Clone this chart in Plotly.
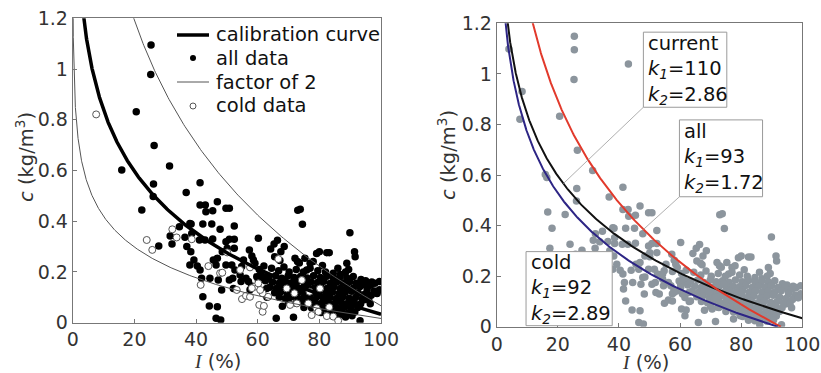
import numpy as np
import plotly.graph_objects as go

# ---------------- data ----------------
x_ticks = [0, 20, 40, 60, 80, 100]
y_ticks = [0, 0.2, 0.4, 0.6, 0.8, 1, 1.2]
y_ticktext = ["0", "0.2", "0.4", "0.6", "0.8", "1", "1.2"]

# fitted model c = ln(k1 / I) / k2
fit_names = ["current", "all", "cold"]
fit_k1 = [110, 93, 92]
fit_k2 = [2.86, 1.72, 2.89]
factor_of_two = 2

legend_labels = ["calibration curve", "all data", "factor of 2", "cold data"]

# left panel: all data (filled black dots)
left_all_points = [
    (25.4, 1.095), (25.3, 0.978), (20.6, 0.832), (26.4, 0.698), (31.4, 0.618), (15.9, 0.602),
    (26.2, 0.547), (41.3, 0.552), (36.8, 0.513), (22.4, 0.444), (26.1, 0.497),
    (27.9, 0.302), (31.6, 0.342), (32.2, 0.31), (34.6, 0.378), (38.0, 0.391), (38.6, 0.352),
    (36.4, 0.337), (37.0, 0.30), (38.3, 0.28), (38.0, 0.227), (39.3, 0.247), (40.4, 0.223),
    (41.3, 0.464), (43.0, 0.464), (43.2, 0.437), (45.4, 0.441), (46.9, 0.477), (49.7, 0.451), (50.8, 0.451),
    (38.4, 0.389), (42.2, 0.389), (45.1, 0.389), (47.8, 0.368), (52.4, 0.381),
    (41.1, 0.326), (42.9, 0.326), (45.4, 0.33),
    (41.3, 0.208), (41.8, 0.175), (42.2, 0.102), (44.5, 0.175), (44.3, 0.066), (46.9, 0.063),
    (46.5, 0.017), (48.0, 0.011),
    (45.6, 0.247), (46.9, 0.254), (46.5, 0.227), (47.2, 0.168), (49.7, 0.227), (50.8, 0.168),
    (52.1, 0.135), (48.3, 0.129), (48.5, 0.28),
    (49.7, 0.319), (50.8, 0.329), (50.1, 0.293), (52.4, 0.329), (52.4, 0.293),
    (51.6, 0.227), (52.6, 0.208), (54.3, 0.188), (54.6, 0.162), (51.9, 0.175),
    (56.2, 0.175), (57.0, 0.162), (57.5, 0.13), (58.0, 0.145), (55.4, 0.247), (54.8, 0.221),
    (57.3, 0.287), (58.1, 0.263), (58.6, 0.247), (59.1, 0.234), (60.2, 0.333),
    (59.7, 0.181), (60.2, 0.168), (62.0, 0.223), (61.8, 0.181), (62.9, 0.135),
    (64.2, 0.29), (65.3, 0.31), (66.4, 0.325), (67.5, 0.28), (68.6, 0.30), (65.5, 0.26), (67.2, 0.245),
    (66.0, 0.017), (71.6, 0.021), (73.0, 0.443), (73.8, 0.447), (74.5, 0.388), (89.9, 0.355),
    (91.6, 0.26), (88.9, 0.234), (79.1, 0.273), (80.0, 0.28), (82.4, 0.276), (83.2, 0.276),
    (77.0, 0.234), (78.0, 0.241), (75.3, 0.254), (75.9, 0.208), (72.1, 0.254), (72.9, 0.241),
    (98.0, 0.155), (95.3, 0.145), (99.5, 0.162), (98.6, 0.116), (93.2, 0.008), (91.4, 0.28),
    (61.0, 0.19), (62.5, 0.165), (60.5, 0.21), (95.0, 0.165), (97.0, 0.16), (68.0, 0.065),
    (63.0, 0.10), (94.5, 0.09), (96.5, 0.075), (73.5, 0.235), (86.0, 0.215), (89.5, 0.21), (81.0, 0.225),
    (64.5, 0.215), (66.8, 0.205), (68.5, 0.22), (70.2, 0.2), (72.5, 0.21), (74.8, 0.2), (77.0, 0.215),
    (79.5, 0.205), (82.0, 0.2), (84.5, 0.195), (86.8, 0.19), (88.5, 0.2),
    (63.5, 0.18), (65.8, 0.185), (67.8, 0.175), (69.9, 0.185), (71.8, 0.178), (73.9, 0.182), (76.0, 0.176),
    (78.1, 0.185), (80.3, 0.178), (82.4, 0.183), (84.6, 0.176), (86.7, 0.18), (88.9, 0.177), (91.0, 0.182),
    (93.5, 0.17),
    (64.8, 0.16), (66.9, 0.155), (69.0, 0.162), (71.0, 0.157), (73.1, 0.163), (75.2, 0.155), (77.3, 0.16),
    (79.4, 0.158), (81.5, 0.163), (83.6, 0.155), (85.7, 0.16), (87.8, 0.156), (89.9, 0.162), (92.0, 0.155),
    (94.3, 0.158), (96.6, 0.148),
    (63.9, 0.14), (66.0, 0.135), (68.0, 0.142), (70.0, 0.136), (72.1, 0.143), (74.2, 0.135), (76.3, 0.14),
    (78.4, 0.137), (80.5, 0.143), (82.6, 0.136), (84.7, 0.141), (86.8, 0.135), (88.9, 0.14), (91.0, 0.137),
    (93.1, 0.142), (95.5, 0.13), (97.8, 0.125), (99.5, 0.13),
    (65.5, 0.118), (67.5, 0.122), (69.6, 0.115), (71.6, 0.12), (73.7, 0.123), (75.8, 0.116), (77.9, 0.12),
    (80.0, 0.124), (82.1, 0.117), (84.2, 0.121), (86.3, 0.115), (88.4, 0.12), (90.5, 0.124), (92.6, 0.117),
    (94.7, 0.112), (96.8, 0.108), (98.7, 0.115),
    (67.0, 0.10), (69.0, 0.095), (71.0, 0.102), (73.0, 0.097), (75.0, 0.10), (77.1, 0.096), (79.2, 0.102),
    (81.3, 0.097), (83.4, 0.10), (85.5, 0.095), (87.6, 0.101), (89.7, 0.096), (91.8, 0.10), (93.9, 0.094),
    (96.0, 0.09),
    (70.0, 0.08), (72.4, 0.077), (74.5, 0.082), (76.6, 0.076), (78.7, 0.08), (80.8, 0.078), (82.9, 0.082),
    (85.0, 0.076), (87.1, 0.08), (89.2, 0.077), (91.3, 0.081), (93.4, 0.075),
    (75.0, 0.06), (77.5, 0.058), (79.7, 0.062), (81.8, 0.057), (83.9, 0.06), (86.0, 0.056), (88.1, 0.061),
    (90.2, 0.057), (92.5, 0.06),
    (80.5, 0.04), (83.0, 0.042), (85.2, 0.038), (87.3, 0.042), (89.4, 0.038), (91.5, 0.042),
    (86.3, 0.028), (88.5, 0.022), (90.6, 0.027),
]

# left panel: cold data (open circles)
left_cold_points = [
    (7.6, 0.821), (24.0, 0.326), (25.8, 0.287), (32.3, 0.368), (33.7, 0.336), (38.6, 0.329),
    (44.0, 0.223), (41.5, 0.149), (47.8, 0.195), (48.5, 0.197), (50.1, 0.277), (54.3, 0.208),
    (57.5, 0.218), (53.2, 0.129), (54.9, 0.093), (56.2, 0.106), (57.5, 0.102), (59.1, 0.142),
    (60.2, 0.155), (60.5, 0.07), (61.6, 0.116), (61.6, 0.043), (63.4, 0.102), (62.0, 0.066),
    (66.7, 0.251), (69.4, 0.135), (71.9, 0.116), (70.5, 0.07), (72.7, 0.076), (76.4, 0.076),
    (76.8, 0.122), (77.5, 0.03), (79.1, 0.057), (79.7, 0.043), (80.2, 0.135), (82.4, 0.026),
    (83.2, 0.061), (84.5, 0.024), (86.1, 0.008), (74.3, 0.168), (60.8, 0.129), (58.1, 0.136),
]

# right panel: extra points present only there
right_extra_points = [
    (4.0, 1.098), (8.3, 0.93), (25.4, 1.149), (43.1, 1.039), (16.4, 0.59),
    (16.7, 0.454), (18.1, 0.389), (17.4, 0.31),
]

all_x, all_y = [p[0] for p in left_all_points], [p[1] for p in left_all_points]
cold_x, cold_y = [p[0] for p in left_cold_points], [p[1] for p in left_cold_points]
right_pts = left_all_points + left_cold_points + right_extra_points
right_x, right_y = [p[0] for p in right_pts], [p[1] for p in right_pts]


def model_curve(k1, k2, i_max=100):
    i_vals = np.geomspace(0.05, min(i_max, k1), 700)
    return i_vals, np.log(k1 / i_vals) / k2


FONT = "DejaVu Sans"
W, H = 821, 373
TXT = 19.5
fig = go.Figure()

# ---------------- left panel ----------------
I_cal, c_cal = model_curve(fit_k1[0], fit_k2[0])
fig.add_trace(go.Scatter(x=all_x, y=all_y, mode="markers", name=legend_labels[1],
                         marker=dict(color="black", size=7.5, line=dict(width=0)),
                         xaxis="x", yaxis="y"))
fig.add_trace(go.Scatter(x=cold_x, y=cold_y, mode="markers", name=legend_labels[3],
                         marker=dict(color="white", size=7, line=dict(color="#555", width=1)),
                         xaxis="x", yaxis="y"))
fig.add_trace(go.Scatter(x=I_cal, y=c_cal * factor_of_two, mode="lines", name=legend_labels[2],
                         line=dict(color="#555", width=1), xaxis="x", yaxis="y"))
fig.add_trace(go.Scatter(x=I_cal, y=c_cal / factor_of_two, mode="lines", name=legend_labels[2],
                         line=dict(color="#555", width=1), xaxis="x", yaxis="y"))
fig.add_trace(go.Scatter(x=I_cal, y=c_cal, mode="lines", name=legend_labels[0],
                         line=dict(color="black", width=3.5), xaxis="x", yaxis="y"))

# ---------------- right panel ----------------
fig.add_trace(go.Scatter(x=right_x, y=right_y, mode="markers", name="data",
                         marker=dict(color="#8c959d", size=7.5, line=dict(width=0)),
                         xaxis="x2", yaxis="y2"))
curve_colors = {"current": "#111111", "all": "#e23a2c", "cold": "#2d2585"}
for name, k1, k2 in zip(fit_names, fit_k1, fit_k2):
    xi, ci = model_curve(k1, k2)
    fig.add_trace(go.Scatter(x=xi, y=ci, mode="lines", name=name,
                             line=dict(color=curve_colors[name], width=2),
                             xaxis="x2", yaxis="y2"))

shapes = []
annotations = []

# ---- legend of left panel (page pixel positions) ----
leg_x0, leg_x1, leg_text_x = 177, 209, 214
leg_rows = [35, 58, 82, 106]
leg_styles = [("line", "black", 3.5), ("dot", "black", None), ("line", "#555", 1), ("ring", "#555", None)]
for label, row, (kind, col, lw) in zip(legend_labels, leg_rows, leg_styles):
    yy = 1 - row / H
    if kind == "line":
        shapes.append(dict(type="line", xref="paper", yref="paper", x0=leg_x0 / W, x1=leg_x1 / W,
                           y0=yy, y1=yy, line=dict(color=col, width=lw), layer="above"))
    else:
        shapes.append(dict(type="circle", xref="paper", yref="paper", xsizemode="pixel",
                           ysizemode="pixel", xanchor=(leg_x0 + leg_x1) / 2 / W, yanchor=yy,
                           x0=-3, x1=3, y0=-3, y1=3,
                           fillcolor=col if kind == "dot" else "white",
                           line=dict(color=col, width=0 if kind == "dot" else 1), layer="above"))
    annotations.append(dict(xref="paper", yref="paper", x=leg_text_x / W, y=yy,
                            xanchor="left", yanchor="middle", showarrow=False, text=label,
                            font=dict(family=FONT, size=TXT, color="#111")))

# ---- label boxes of right panel (data units) ----
boxes = {
    "current": dict(x0=48.0, x1=75.3, y0=0.868, y1=1.165),
    "all": dict(x0=59.8, x1=87.0, y0=0.514, y1=0.818),
    "cold": dict(x0=9.6, x1=37.8, y0=0.004, y1=0.297),
}
leaders = {
    "current": (48.0, 0.868, 21.8),
    "all": (59.8, 0.514, 48.0),
}
for name, k1, k2 in zip(fit_names, fit_k1, fit_k2):
    b = boxes[name]
    if name in leaders:
        lx0, ly0, li = leaders[name]
        shapes.append(dict(type="line", xref="x2", yref="y2", x0=lx0, y0=ly0,
                           x1=li, y1=float(np.log(k1 / li) / k2),
                           line=dict(color="#9a9a9a", width=0.8), layer="above"))
    shapes.append(dict(type="rect", xref="x2", yref="y2", x0=b["x0"], x1=b["x1"],
                       y0=b["y0"], y1=b["y1"], fillcolor="white",
                       line=dict(color="#9a9a9a", width=1), layer="above"))
    txt = (f"{name}<br><i>k</i><sub><i>1</i></sub>={k1}"
           f"<br><i>k</i><sub><i>2</i></sub>={k2:.2f}")
    annotations.append(dict(xref="x2", yref="y2", x=b["x0"] + 1.0, y=(b["y0"] + b["y1"]) / 2,
                            xanchor="left", yanchor="middle", align="left", showarrow=False,
                            text=txt, font=dict(family=FONT, size=TXT, color="#111")))

# ---- axis titles (page pixels) ----
title_font = dict(family=FONT, size=TXT, color="#333")
ytitle_txt = "<i>c</i> (kg/m<sup>3</sup>)"
xtitle_txt = "<span style='font-family:Liberation Serif'><i>I</i></span> (%)"
for (px, py) in [(25, 157), (447, 155)]:
    annotations.append(dict(xref="paper", yref="paper", x=px / W, y=1 - py / H,
                            xanchor="center", yanchor="middle", textangle=-90,
                            showarrow=False, text=ytitle_txt, font=title_font))
for (px, py) in [(217, 361), (645, 362)]:
    annotations.append(dict(xref="paper", yref="paper", x=px / W, y=1 - py / H,
                            xanchor="center", yanchor="middle",
                            showarrow=False, text=xtitle_txt, font=title_font))

axis_common = dict(showline=True, mirror=True, linecolor="#777", linewidth=1, automargin=False,
                   ticks="inside", ticklen=4, tickcolor="#777", showgrid=False, zeroline=False,
                   ticklabeloverflow="allow",
                   tickfont=dict(family=FONT, size=19, color="#333"))

fig.update_layout(
    width=W, height=H, margin=dict(l=0, r=0, t=0, b=0),
    paper_bgcolor="white", plot_bgcolor="white", showlegend=False,
    xaxis=dict(domain=[0.0886, 0.4641], anchor="y", range=[0, 100], tickvals=x_ticks, **axis_common),
    yaxis=dict(domain=[0.1349, 0.951], anchor="x", range=[0, 1.2], tickvals=y_ticks,
               ticktext=y_ticktext, **axis_common),
    xaxis2=dict(domain=[0.605, 0.9772], anchor="y2", range=[0, 100], tickvals=x_ticks, **axis_common),
    yaxis2=dict(domain=[0.1241, 0.9375], anchor="x2", range=[0, 1.2], tickvals=y_ticks,
                ticktext=y_ticktext, **axis_common),
    shapes=shapes, annotations=annotations,
)

fig.write_html("out.html", config={"displayModeBar": False},
               post_script="document.body.style.margin='0px';"
                           "document.body.style.overflow='hidden';")
